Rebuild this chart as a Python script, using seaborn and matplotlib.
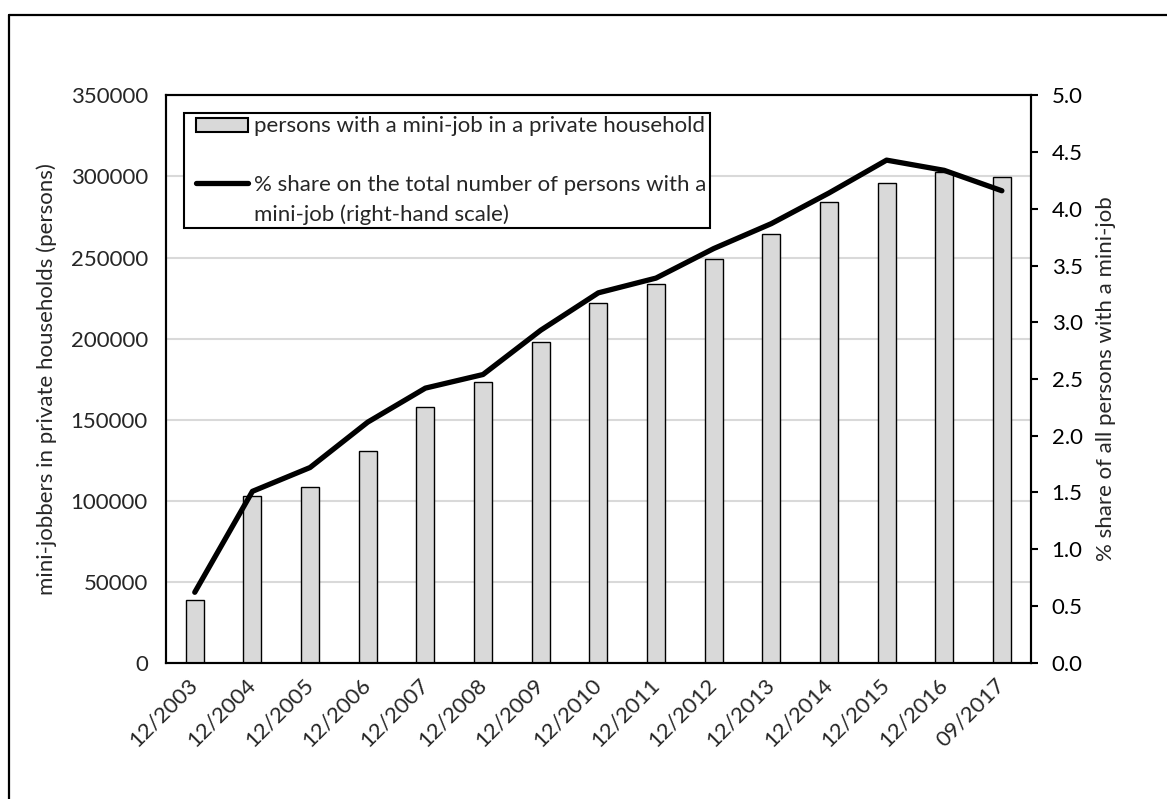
import numpy as np
import pandas as pd
import matplotlib
matplotlib.use("Agg")
import matplotlib.pyplot as plt
from matplotlib.lines import Line2D
from matplotlib.patches import Patch
from matplotlib.legend_handler import HandlerLine2D, HandlerPatch
from matplotlib.ticker import MultipleLocator, StrMethodFormatter
import seaborn as sns

# Reporting dates (end of period)
periods = ["12/2003", "12/2004", "12/2005", "12/2006", "12/2007", "12/2008",
           "12/2009", "12/2010", "12/2011", "12/2012", "12/2013", "12/2014",
           "12/2015", "12/2016", "09/2017"]

# Persons with a mini-job in a private household
persons = [38600, 103000, 108600, 130600, 158000, 173000, 198100, 221800,
           233700, 249000, 264800, 284100, 295900, 302800, 299600]

# Share of all persons with a mini-job, in percent
share = [0.62, 1.51, 1.72, 2.12, 2.42, 2.54, 2.93, 3.26, 3.39, 3.65, 3.87,
         4.14, 4.43, 4.34, 4.16]

bar_label = "persons with a mini-job in a private household"
line_label = "% share on the total number of persons with a\nmini-job (right-hand scale)"
left_ylabel = "mini-jobbers in private households (persons)"
right_ylabel = "% share of all persons with a mini-job"

df = pd.DataFrame({"period": periods, "persons": persons, "share": share})
df["pos"] = np.arange(len(df))

sns.set_style("white")
plt.rcParams["font.family"] = ["Lato", "DejaVu Sans"]
FS = 16
LS = 1.55

fig = plt.figure(figsize=(11.67, 7.99), dpi=100)
ax = fig.add_axes([0.1422, 0.1707, 0.8832 - 0.1422, 0.8805 - 0.1707])

sns.barplot(data=df, x="pos", y="persons", color="#D9D9D9", saturation=1,
            edgecolor="black", linewidth=1.0, width=0.31, ax=ax, zorder=2)
ax.set_xlim(-0.5, len(df) - 0.5)
ax.set_ylim(0, 350000)
ax.yaxis.set_major_locator(MultipleLocator(50000))
ax.yaxis.set_major_formatter(StrMethodFormatter("{x:.0f}"))
ax.set_xticks(df["pos"])
ax.set_xticklabels(periods, rotation=45, ha="right", va="center",
                   rotation_mode="anchor", fontsize=FS)
ax.tick_params(axis="x", length=0, pad=14)
ax.tick_params(axis="y", length=0, pad=13, labelsize=FS)
ax.grid(axis="y", color="#D9D9D9", linewidth=1.5)
ax.set_axisbelow(True)
ax.set_xlabel("")
ax.set_ylabel(left_ylabel, fontsize=FS, labelpad=10)

ax2 = ax.twinx()
sns.lineplot(data=df, x="pos", y="share", color="black", linewidth=3.8,
             ax=ax2, legend=False)
for ln in ax2.lines:
    ln.set_solid_capstyle("round")
    ln.set_solid_joinstyle("round")
ax2.set_ylim(0, 5.0)
ax2.yaxis.set_major_locator(MultipleLocator(0.5))
ax2.yaxis.set_major_formatter(StrMethodFormatter("{x:.1f}"))
ax2.tick_params(axis="y", length=5, width=1.5, direction="out", pad=10,
                labelsize=FS, colors="black")
ax2.set_ylabel(right_ylabel, fontsize=FS, labelpad=10)
ax2.set_xlabel("")

for a in (ax, ax2):
    for sp in a.spines.values():
        sp.set_visible(True)
        sp.set_color("black")
        sp.set_linewidth(1.5)


class HandlerLineFirstRow(HandlerLine2D):
    """Line handle aligned with the first row of a two-line label."""
    def __init__(self, shift, **kw):
        super().__init__(**kw)
        self._shift = shift

    def create_artists(self, legend, orig_handle, xdescent, ydescent,
                       width, height, fontsize, trans):
        arts = super().create_artists(legend, orig_handle, xdescent, ydescent,
                                      width, height, fontsize, trans)
        for a in arts:
            a.set_ydata(np.asarray(a.get_ydata()) + self._shift)
        return arts


bar_handle = Patch(facecolor="#D9D9D9", edgecolor="black", linewidth=1.5)
line_handle = Line2D([], [], color="black", linewidth=3.8,
                     solid_capstyle="round")
leg = ax2.legend([bar_handle, line_handle], [bar_label, line_label],
                 loc="upper left", bbox_to_anchor=(0.0208, 0.969),
                 borderaxespad=0, fontsize=FS, frameon=True, fancybox=False,
                 edgecolor="black", framealpha=1, borderpad=0.15,
                 labelspacing=1.75, handlelength=2.75, handleheight=0.6,
                 handletextpad=0.25,
                 handler_map={Patch: HandlerPatch(xpad=0.4),
                              Line2D: HandlerLineFirstRow(shift=0.5 * FS * LS,
                                                          xpad=0.4)})
for t in leg.get_texts():
    t.set_linespacing(LS)
leg.get_frame().set_linewidth(1.5)
leg.set_zorder(10)

# Frame lines around the figure
fig.add_artist(Line2D([0.0073, 0.0073], [0.0, 0.981], transform=fig.transFigure,
                      color="black", linewidth=1.6))
fig.add_artist(Line2D([0.0073, 1.0], [0.981, 0.981], transform=fig.transFigure,
                      color="black", linewidth=1.6))

fig.savefig("out.png", dpi=100)
